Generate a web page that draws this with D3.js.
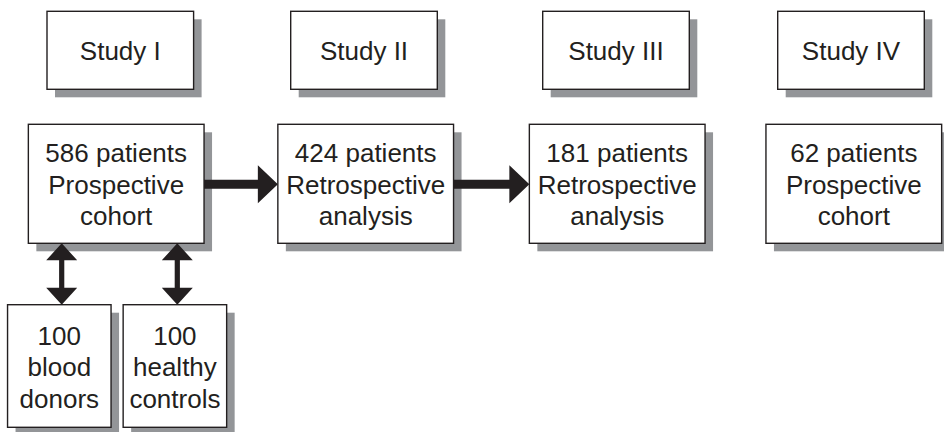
<!DOCTYPE html>
<html>
<head>
<meta charset="utf-8">
<script src="https://cdn.jsdelivr.net/npm/d3@7"></script>
<style>
  body { margin: 0; background: #fff; }
  text { font-family: "Liberation Sans", Arial, sans-serif; fill: #231f20; }
</style>
</head>
<body>
<svg id="chart" width="944" height="432"></svg>
<script>
// diagram content
const studies = ["Study I", "Study II", "Study III", "Study IV"];
const cohortLines = [
  ["586 patients", "Prospective", "cohort"],
  ["424 patients", "Retrospective", "analysis"],
  ["181 patients", "Retrospective", "analysis"],
  ["62 patients", "Prospective", "cohort"]
];
const controlLines = [
  ["100", "blood", "donors"],
  ["100", "healthy", "controls"]
];
const flows = [[0, 1], [1, 2]];     // cohort -> cohort
const controlLinks = [0, 1];       // controls linked to cohort of Study I

// layout
const ink = "#231f20", shade = "#939598", shadowOff = 8;
const fontSize = 26, lineGap = 31.5;

const svg = d3.select("#chart");

const xStudy = d3.scaleOrdinal().domain(studies).range([120.3, 364, 616, 851]);
const xCohort = d3.scaleOrdinal().domain(studies).range([116.2, 365.7, 617.2, 853.8]);
const xControl = d3.scaleOrdinal().domain(d3.range(controlLines.length)).range([59.3, 174.9]);

const rows = {
  study: { y: 11.3, h: 78, w: 146.6 },
  cohort: { y: 124.3, h: 119, w: 175.7 },
  control: { y: 304.7, h: 122.6, w: 103.5 }
};

function box(cx, row, lines) {
  const x = cx - row.w / 2;
  const g = svg.append("g");
  g.append("rect")
    .attr("x", x + shadowOff).attr("y", row.y + shadowOff)
    .attr("width", row.w).attr("height", row.h)
    .attr("fill", shade);
  g.append("rect")
    .attr("x", x).attr("y", row.y)
    .attr("width", row.w).attr("height", row.h)
    .attr("fill", "#fff").attr("stroke", ink).attr("stroke-width", 1.4);
  const mid = row.y + row.h / 2 + 10;
  const off = (lines.length - 1) / 2;
  g.selectAll("text").data(lines).join("text")
    .attr("x", cx)
    .attr("y", (d, i) => mid + (i - off) * lineGap)
    .attr("text-anchor", "middle")
    .attr("font-size", fontSize)
    .text(d => d);
}

// study headers
studies.forEach(s => box(xStudy(s), rows.study, [s]));

// horizontal flow arrows (drawn before cohort boxes so shadows sit under)
const headLen = 20, headHalf = 19, shaftHalf = 4.5;
function hArrow(x0, x1, y) {
  const hb = x1 - headLen;
  const pts = [
    [x0, y - shaftHalf], [hb, y - shaftHalf], [hb, y - headHalf], [x1, y],
    [hb, y + headHalf], [hb, y + shaftHalf], [x0, y + shaftHalf]
  ];
  svg.append("path").attr("d", d3.line()(pts) + "Z").attr("fill", ink);
}

// cohort boxes
studies.forEach((s, i) => box(xCohort(s), rows.cohort, cohortLines[i]));

const arrowY = rows.cohort.y + 60;
flows.forEach(([a, b]) => {
  hArrow(xCohort(studies[a]) + rows.cohort.w / 2,
         xCohort(studies[b]) - rows.cohort.w / 2, arrowY);
});

// control boxes
controlLines.forEach((lines, i) => box(xControl(i), rows.control, lines));

// double-headed vertical arrows
const vHead = 17, vHalf = 15.5, vShaft = 2.6;
function vArrow(x, y0, y1) {
  const a = y0 + vHead, b = y1 - vHead;
  const pts = [
    [x, y0], [x + vHalf, a], [x + vShaft, a], [x + vShaft, b], [x + vHalf, b],
    [x, y1], [x - vHalf, b], [x - vShaft, b], [x - vShaft, a], [x - vHalf, a]
  ];
  svg.append("path").attr("d", d3.line()(pts) + "Z").attr("fill", ink);
}
controlLinks.forEach(i => {
  vArrow(xControl(i) + 2.4, rows.cohort.y + rows.cohort.h, rows.control.y);
});
</script>
</body>
</html>
